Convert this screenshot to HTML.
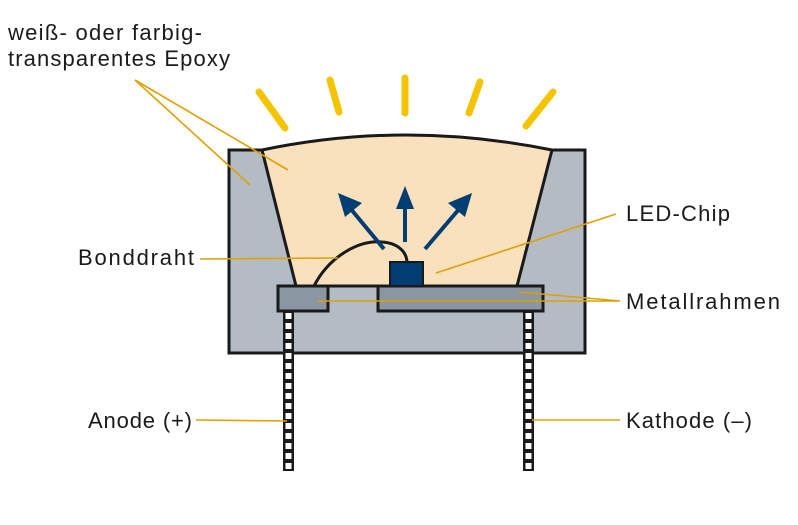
<!DOCTYPE html>
<html><head><meta charset="utf-8"><style>
html,body{margin:0;padding:0;background:#fff;}
svg{display:block;}
text{font-family:"Liberation Sans",sans-serif;font-size:22px;fill:#1a1a1a;}
</style></head><body>
<svg width="798" height="525" viewBox="0 0 798 525" xmlns="http://www.w3.org/2000/svg">
<defs>
<pattern id="lead" x="283" y="311" width="12" height="10" patternUnits="userSpaceOnUse">
<rect width="12" height="10" fill="#1a1a1a"/><rect x="2.5" y="2" width="6" height="6" fill="#fff"/>
</pattern>
</defs>
<g stroke="#f5c400" stroke-width="7" stroke-linecap="round">
<line x1="259" y1="92" x2="285" y2="128"/>
<line x1="330" y1="80" x2="339" y2="112"/>
<line x1="405" y1="78" x2="405" y2="113"/>
<line x1="480" y1="82" x2="469" y2="113"/>
<line x1="553" y1="92" x2="526" y2="126"/>
</g>
<rect x="229" y="150" width="356" height="203" fill="#b3bcc4" stroke="#1a1a1a" stroke-width="3"/>
<path d="M262,150 Q405,120 552,150 L517,286 L296,286 Z" fill="#f9e1bd" stroke="#1a1a1a" stroke-width="3" stroke-linejoin="round"/>
<rect x="278" y="286" width="50" height="25" fill="#8a97a3" stroke="#1a1a1a" stroke-width="3"/>
<rect x="378" y="286" width="165" height="25" fill="#8a97a3" stroke="#1a1a1a" stroke-width="3"/>
<rect x="283" y="312" width="11" height="159" fill="url(#lead)"/>
<rect x="523" y="312" width="11" height="159" fill="url(#lead)"/>
<rect x="390" y="262" width="33" height="24" fill="#003d73" stroke="#1a1a1a" stroke-width="2"/>
<path d="M314,286 C330,255 360,240 382,242 C398,243 407,252 407,263" fill="none" stroke="#1a1a1a" stroke-width="3"/>
<g stroke="#003d73" stroke-width="4" fill="#003d73">
<line x1="384" y1="249" x2="350" y2="208"/>
<polygon points="338,193 362,203 345,217" stroke="none"/>
<line x1="405" y1="242" x2="405" y2="205"/>
<polygon points="405,186 396,209 414,209" stroke="none"/>
<line x1="425" y1="249" x2="460" y2="208"/>
<polygon points="472,193 465,217 448,203" stroke="none"/>
</g>
<g stroke="#e0a000" stroke-width="1.6" fill="none">
<polyline points="288,170 135,80 250,185"/>
<line x1="200" y1="259" x2="338" y2="258"/>
<line x1="436" y1="273" x2="616" y2="214"/>
<polyline points="519,292 620,301 318,301"/>
<line x1="196" y1="420" x2="287" y2="421"/>
<line x1="532" y1="420" x2="620" y2="420"/>
</g>
<text x="8" y="40" textLength="194" lengthAdjust="spacing">weiß- oder farbig-</text>
<text x="8" y="66" textLength="222" lengthAdjust="spacing">transparentes Epoxy</text>
<text x="78" y="265" textLength="116" lengthAdjust="spacing">Bonddraht</text>
<text x="626" y="221" textLength="104" lengthAdjust="spacing">LED-Chip</text>
<text x="626" y="309" textLength="154" lengthAdjust="spacing">Metallrahmen</text>
<text x="88" y="428" textLength="104" lengthAdjust="spacing">Anode (+)</text>
<text x="626" y="428" textLength="126" lengthAdjust="spacing">Kathode (–)</text>
</svg>
</body></html>
